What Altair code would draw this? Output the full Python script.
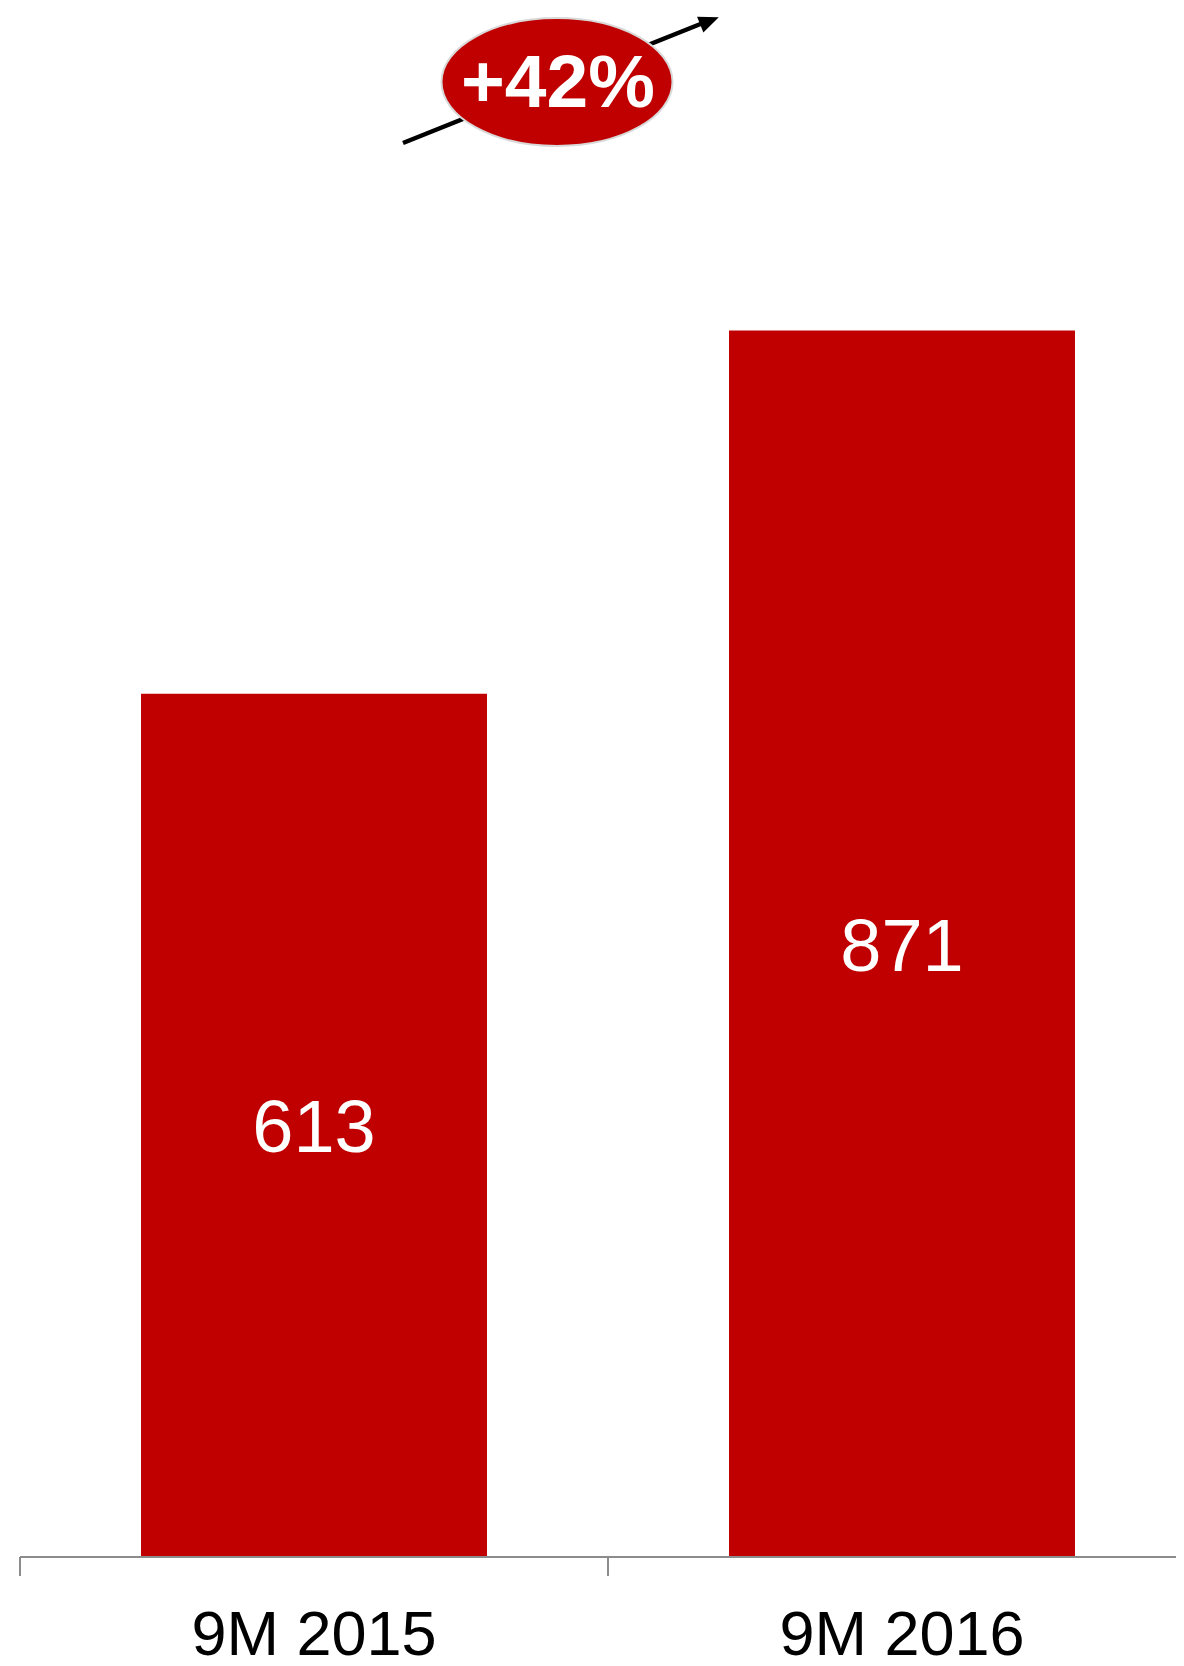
import altair as alt
import pandas as pd

# Data
periods = ["9M 2015", "9M 2016"]
values = [613, 871]
growth_label = ["+42%"]

RED = "#C00000"
GRAY = "#8c8c8c"
FONT = "Liberation Sans"

df = pd.DataFrame({"period": periods, "value": values})
ann = pd.DataFrame({"label": growth_label})

x_scale = alt.Scale(range=[0, 1176], paddingInner=0, paddingOuter=0)

x_enc = alt.X(
    "period:N",
    sort=None,
    scale=x_scale,
    axis=alt.Axis(
        title=None,
        labelFont=FONT,
        labelFontSize=63,
        labelColor="black",
        labelAngle=0,
        labelPadding=97,
        labelBaseline="alphabetic",
        labelLimit=1000,
        ticks=False,
        tickSize=0,
        domain=False,
        grid=False,
    ),
)
y_enc = alt.Y("value:Q", scale=alt.Scale(domain=[0, 1098]), axis=None)

bars = alt.Chart(df).mark_bar(color=RED, width=alt.RelativeBandSize(0.5884)).encode(x=x_enc, y=y_enc)

bar_labels = (
    alt.Chart(df)
    .transform_calculate(mid="datum.value / 2")
    .mark_text(color="white", font=FONT, fontSize=74, baseline="middle", dy=5)
    .encode(
        x=alt.X("period:N", sort=None),
        y=alt.Y("mid:Q"),
        text=alt.Text("value:Q"),
    )
)

# Category axis line and ticks at category boundaries
axis_line = alt.Chart(ann).mark_rule(color=GRAY, strokeWidth=2).encode(
    x=alt.value(0), x2=alt.value(1156), y=alt.value(1549)
)
axis_ticks = alt.Chart(df).mark_rule(color=GRAY, strokeWidth=2).encode(
    x=alt.X("period:N", sort=None, bandPosition=0),
    y=alt.value(1549),
    y2=alt.value(1568),
)

# Growth annotation: arrow, ellipse badge and text
arrow_line = alt.Chart(ann).mark_rule(color="black", strokeWidth=4.5).encode(
    x=alt.value(383), y=alt.value(135), x2=alt.value(683), y2=alt.value(15)
)
arrow_head = alt.Chart(ann).mark_point(
    shape="M 1 0 L -1 -0.85 L -1 0.85 Z",
    filled=True,
    fill="black",
    opacity=1,
    size=400,
    angle=338.2,
).encode(x=alt.value(689.5), y=alt.value(13))

ellipse_path = (
    "M -1 0 C -1 -0.306 -0.552 -0.554 0 -0.554 "
    "C 0.552 -0.554 1 -0.306 1 0 "
    "C 1 0.306 0.552 0.554 0 0.554 "
    "C -0.552 0.554 -1 0.306 -1 0 Z"
)
badge = alt.Chart(ann).mark_point(
    shape=ellipse_path,
    filled=True,
    fill=RED,
    stroke="#d9d9d9",
    strokeWidth=2,
    opacity=1,
    size=231 * 231,
).encode(x=alt.value(537), y=alt.value(74))

badge_text = alt.Chart(ann).mark_text(
    color="white", font=FONT, fontSize=75, fontWeight="bold", baseline="alphabetic", align="center"
).encode(x=alt.value(538), y=alt.value(99), text="label:N")

chart = (
    alt.layer(bars, bar_labels, axis_line, axis_ticks, arrow_line, arrow_head, badge, badge_text)
    .properties(
        width=1156,
        height=1549,
        autosize=alt.AutoSizeParams(type="none"),
        padding={"left": 12, "top": 0, "right": 0, "bottom": 101},
        background="white",
    )
    .configure_view(stroke=None)
)

chart.save("out.html", embed_options={"renderer": "svg", "actions": False})
